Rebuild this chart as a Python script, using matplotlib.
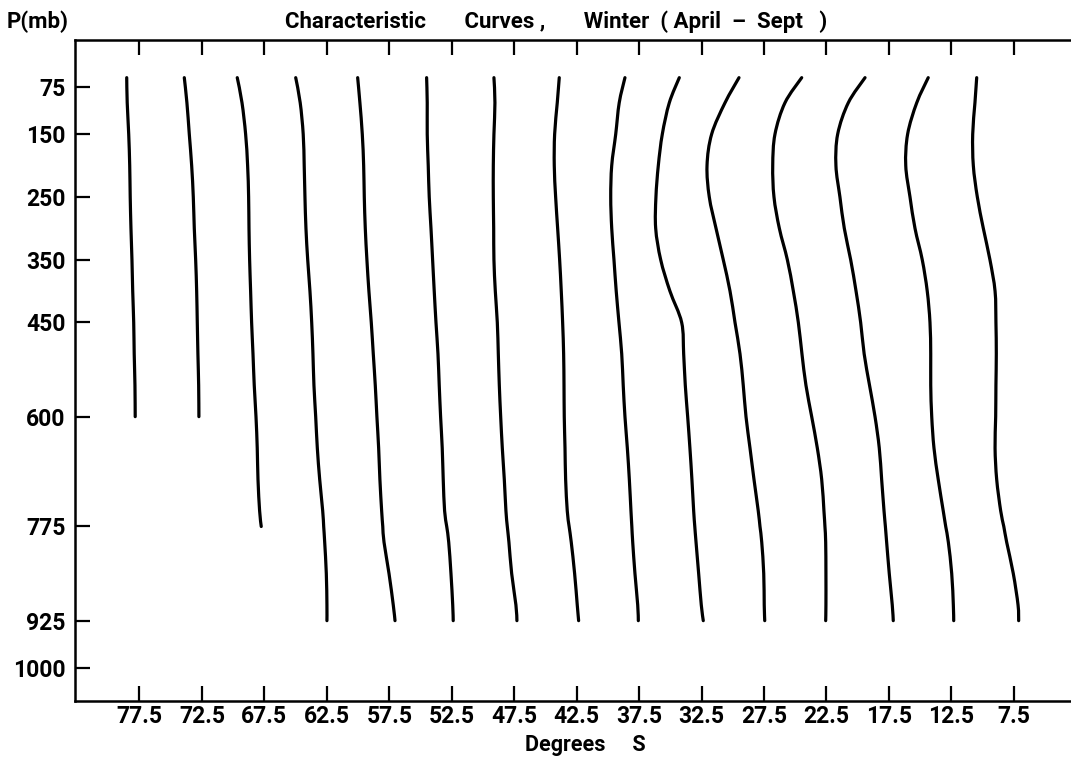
import numpy as np
import matplotlib
matplotlib.use('Agg')
from matplotlib import pyplot as plt
from matplotlib.path import Path
from matplotlib.patches import PathPatch

plt.rcParams['font.family'] = ['Roboto', 'DejaVu Sans']
plt.rcParams['font.weight'] = 'bold'

nan = np.nan

# pressure levels (mb) at which each characteristic curve was read
pres = [60, 100, 150, 200, 250, 300, 350, 400, 450, 500,
        550, 600, 650, 700, 750, 775, 800, 850, 900, 925]

# latitude (deg S) of each curve at those levels
curve_77_5 = [78.52, 78.48, 78.36, 78.28, 78.24, 78.18, 78.10, 78.04, 77.96, 77.92,
              77.86, 77.84, nan, nan, nan, nan, nan, nan, nan, nan]
curve_72_5 = [73.91, 73.70, 73.51, 73.32, 73.19, 73.11, 73.00, 72.92, 72.87, 72.82,
              72.76, 72.74, nan, nan, nan, nan, nan, nan, nan, nan]
curve_67_5 = [69.67, 69.29, 69.00, 68.84, 68.76, 68.73, 68.68, 68.60, 68.52, 68.41,
              68.31, 68.17, 68.07, 68.01, 67.88, 67.75, nan, nan, nan, nan]
curve_62_5 = [64.99, 64.63, 64.39, 64.31, 64.25, 64.17, 64.03, 63.85, 63.71, 63.61,
              63.53, 63.39, 63.26, 63.07, 62.83, 62.75, 62.67, 62.54, 62.49, 62.49]
curve_57_5 = [60.03, 59.85, 59.66, 59.55, 59.50, 59.42, 59.29, 59.13, 58.94, 58.78,
              58.62, 58.49, 58.35, 58.25, 58.11, 58.02, 57.92, 57.52, 57.18, 57.04]
curve_52_5 = [54.51, 54.46, 54.46, 54.38, 54.30, 54.16, 54.03, 53.90, 53.76, 53.60,
              53.50, 53.39, 53.26, 53.18, 53.07, 52.90, 52.74, 52.56, 52.42, 52.38]
curve_47_5 = [49.12, 49.04, 49.12, 49.17, 49.17, 49.14, 49.12, 49.01, 48.85, 48.77,
              48.69, 48.58, 48.45, 48.29, 48.16, 48.05, 47.92, 47.70, 47.36, 47.28]
curve_42_5 = [43.89, 44.05, 44.26, 44.29, 44.18, 44.02, 43.86, 43.73, 43.62, 43.54,
              43.51, 43.49, 43.43, 43.38, 43.25, 43.10, 42.93, 42.66, 42.45, 42.34]
curve_37_5 = [38.63, 39.09, 39.37, 39.69, 39.77, 39.69, 39.51, 39.33, 39.11, 38.89,
              38.77, 38.63, 38.44, 38.28, 38.15, 38.08, 38.01, 37.83, 37.61, 37.56]
curve_32_5 = [34.28, 35.08, 35.64, 35.96, 36.15, 36.17, 35.77, 35.03, 34.09, 33.93,
              33.80, 33.61, 33.43, 33.27, 33.13, 33.04, 32.94, 32.73, 32.52, 32.36]
curve_27_5 = [29.50, 30.62, 31.69, 32.06, 31.88, 31.34, 30.76, 30.22, 29.82, 29.42,
              29.16, 28.94, 28.62, 28.30, 27.96, 27.82, 27.68, 27.52, 27.48, 27.44]
curve_22_5 = [24.48, 25.82, 26.62, 26.80, 26.70, 26.27, 25.63, 25.15, 24.75, 24.46,
              24.14, 23.68, 23.23, 22.88, 22.70, 22.62, 22.56, 22.54, 22.54, 22.56]
curve_17_5 = [19.41, 20.75, 21.60, 21.74, 21.42, 21.07, 20.56, 20.13, 19.76, 19.48,
              19.05, 18.61, 18.27, 18.08, 17.89, 17.78, 17.68, 17.47, 17.23, 17.15]
curve_12_5 = [14.35, 15.27, 16.00, 16.15, 15.81, 15.41, 14.83, 14.43, 14.21, 14.15,
              14.15, 14.07, 13.89, 13.55, 13.15, 12.95, 12.74, 12.47, 12.34, 12.31]
curve_7_5 = [10.47, 10.61, 10.79, 10.74, 10.42, 9.94, 9.41, 9.00, 8.93, 8.90,
             8.93, 8.95, 9.00, 8.87, 8.55, 8.30, 8.07, 7.54, 7.16, 7.11]

curves = [curve_77_5, curve_72_5, curve_67_5, curve_62_5, curve_57_5,
          curve_52_5, curve_47_5, curve_42_5, curve_37_5, curve_32_5,
          curve_27_5, curve_22_5, curve_17_5, curve_12_5, curve_7_5]

lat_ticks = [77.5, 72.5, 67.5, 62.5, 57.5, 52.5, 47.5, 42.5,
             37.5, 32.5, 27.5, 22.5, 17.5, 12.5, 7.5]
lat_labels = ['77.5', '72.5', '67.5', '62.5', '57.5', '52.5', '47.5', '42.5',
              '37.5', '32.5', '27.5', '22.5', '17.5', '12.5', '7.5']
p_ticks = [75, 150, 250, 350, 450, 600, 775, 925, 1000]
p_labels = ['75', '150', '250', '350', '450', '600', '775', '925', '1000']


def smooth_path(xs, ys):
    # hand-drawn look: cubic segments through the read points
    pts = np.column_stack([xs, ys])
    pts = pts[~np.isnan(pts[:, 0])]
    n = len(pts)
    verts = [pts[0]]
    codes = [Path.MOVETO]
    for i in range(n - 1):
        p0 = pts[max(i - 1, 0)]
        p1 = pts[i]
        p2 = pts[i + 1]
        p3 = pts[min(i + 2, n - 1)]
        verts += [p1 + (p2 - p0) / 6, p2 - (p3 - p1) / 6, p2]
        codes += [Path.CURVE4] * 3
    return Path(verts, codes)


W, H = 1071, 758
fig = plt.figure(figsize=(W / 100, H / 100), dpi=100)
ax = fig.add_axes([75 / W, 1 - 701 / H, 1 - 75 / W, (701 - 40) / H])

for c in curves:
    ax.add_patch(PathPatch(smooth_path(c, pres), fill=False, edgecolor='black',
                           lw=2.3, capstyle='round', joinstyle='round'))

ax.set_xlim(82.66, 2.92)
ax.set_ylim(1053, 0)

ax.set_xticks(lat_ticks)
ax.set_xticklabels(lat_labels)
ax.set_yticks(p_ticks)
ax.set_yticklabels(p_labels)
ax.tick_params(direction='in', length=11, width=1.6, top=True, right=False,
               labelsize=16.5, pad=3)
ax.tick_params(axis='y', pad=7)
for lbl in ax.get_xticklabels() + ax.get_yticklabels():
    lbl.set_fontweight('bold')

for s in ['left', 'bottom', 'top']:
    ax.spines[s].set_linewidth(1.8)
ax.spines['right'].set_visible(False)

fig.text(7 / W, 1 - 22 / H, 'P(mb)', fontsize=16, fontweight='bold',
         ha='left', va='center')
fig.text(556 / W, 1 - 22 / H,
         'Characteristic       Curves ,       Winter  ( April  \u2013  Sept   )',
         fontsize=16, fontweight='bold', ha='center', va='center')
fig.text(585 / W, 1 - 745 / H, 'Degrees     S', fontsize=15.5, fontweight='bold',
         ha='center', va='center')

fig.savefig('out.png', dpi=100)
